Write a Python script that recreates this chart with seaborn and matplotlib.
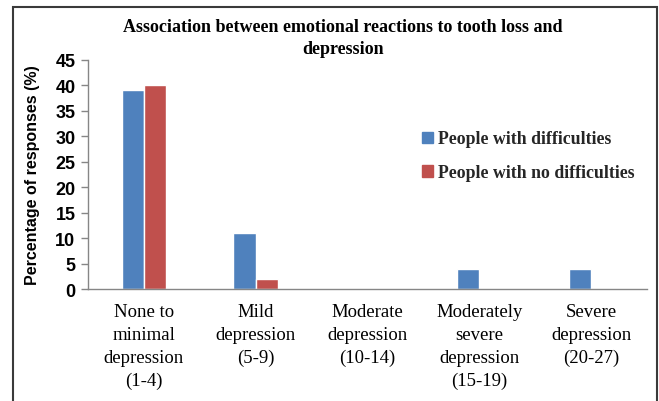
import matplotlib
matplotlib.use("Agg")
import matplotlib.pyplot as plt
import matplotlib.patches as mpatches
import pandas as pd
import seaborn as sns

# Data
categories = [
    "None to\nminimal\ndepression\n(1-4)",
    "Mild\ndepression\n(5-9)",
    "Moderate\ndepression\n(10-14)",
    "Moderately\nsevere\ndepression\n(15-19)",
    "Severe\ndepression\n(20-27)",
]
series_names = ["People with difficulties", "People with no difficulties"]
with_difficulties = [39, 11, 0, 4, 4]
no_difficulties = [40, 2, 0, 0, 0]
y_ticks = [0, 5, 10, 15, 20, 25, 30, 35, 40, 45]

colors = ["#4F81BD", "#C0504D"]

df = pd.DataFrame({
    "category": categories * 2,
    "group": [series_names[0]] * len(categories) + [series_names[1]] * len(categories),
    "value": with_difficulties + no_difficulties,
})

sns.set_theme(style="white")
plt.rcParams["font.family"] = ["Liberation Serif", "DejaVu Serif"]

fig = plt.figure(figsize=(6.59, 4.02), dpi=100)
ax = fig.add_axes([0.1335, 0.2786, 0.8485, 0.5704])

sns.barplot(
    data=df, x="category", y="value", hue="group",
    palette=colors, width=0.4, saturation=1, ax=ax, legend=False,
)

ax.set_ylim(0, 45)
ax.set_xlim(-0.5, len(categories) - 0.5)
ax.set_yticks(y_ticks)
ax.set_yticklabels([str(t) for t in y_ticks],
                   fontfamily="Liberation Sans", fontweight="bold", fontsize=13,
                   color="black")
ax.set_xticks(range(len(categories)))
ax.set_xticklabels(categories, fontsize=13.5, linespacing=1.45, color="black")
ax.tick_params(axis="x", length=0, pad=10)
ax.tick_params(axis="y", length=5, width=1, color="#868686", pad=4, left=True)
ax.set_xlabel("")
ax.set_ylabel("Percentage of responses (%)", fontfamily="Liberation Sans",
              fontweight="bold", fontsize=11.5, labelpad=11, color="black")

for side in ["top", "right"]:
    ax.spines[side].set_visible(False)
for side in ["left", "bottom"]:
    ax.spines[side].set_color("#868686")
    ax.spines[side].set_linewidth(1)

fig.text(0.52, 0.905, "Association between emotional reactions to tooth loss and\ndepression",
         ha="center", va="center", fontsize=13, fontweight="bold", linespacing=1.4,
         color="black")

handles = [mpatches.Patch(color=c, label=n) for c, n in zip(colors, series_names)]
fig.legend(handles=handles, loc="upper left", bbox_to_anchor=(0.627, 0.695),
           frameon=False, prop={"family": "Liberation Serif", "weight": "bold", "size": 12.8},
           handlelength=0.6, handleheight=0.6, handletextpad=0.3,
           labelspacing=0.95, borderpad=0)

# outer frame, open at the bottom like the reference crop
border = mpatches.Rectangle((0.02, -0.02), 0.977, 1.0, transform=fig.transFigure,
                            fill=False, edgecolor="#3a3a3a", linewidth=1.5, clip_on=False)
fig.patches.append(border)

fig.savefig("out.png", dpi=100)
